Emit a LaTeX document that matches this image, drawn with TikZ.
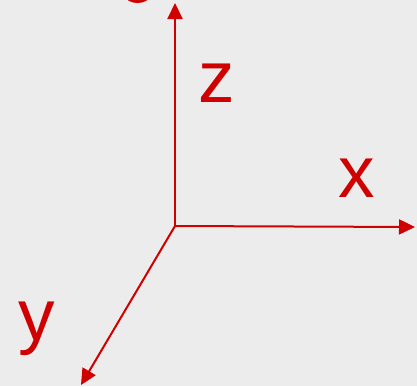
\documentclass[tikz,border=0pt]{standalone}
\usepackage{fontspec}
\setmainfont{Liberation Sans}
\usetikzlibrary{arrows.meta}
\definecolor{axred}{HTML}{D00000}
\definecolor{bggray}{HTML}{ECECEC}
\begin{document}
\begin{tikzpicture}[x=1pt,y=-1pt,
  axis/.style={draw=axred,line width=2pt,-{Triangle[length=16pt,width=15pt]}},
  lbl/.style={text=axred,inner sep=0pt,anchor=base,font=\fontsize{73}{73}\selectfont}]
\fill[bggray] (0,0) rectangle (417,386);
\useasboundingbox (0,0) rectangle (417,386);
\begin{scope}
\clip (0,0) rectangle (417,386);
\fill[axred] (137.5,-4) ellipse [x radius=12, y radius=7];
\end{scope}
\coordinate (o) at (175,226);
\coordinate (zt) at (175,3);
\coordinate (xt) at (415,227);
\coordinate (yt) at (81,385);
\draw[axis] (o) -- (zt);
\draw[axis] (o) -- (xt);
\draw[axis] (o) -- (yt);
\node[lbl] (zl) at (216.5,102) {z};
\node[lbl] (xl) at (356.5,197) {x};
\node[lbl] (yl) at (36.5,340) {y};
\end{tikzpicture}
\end{document}
